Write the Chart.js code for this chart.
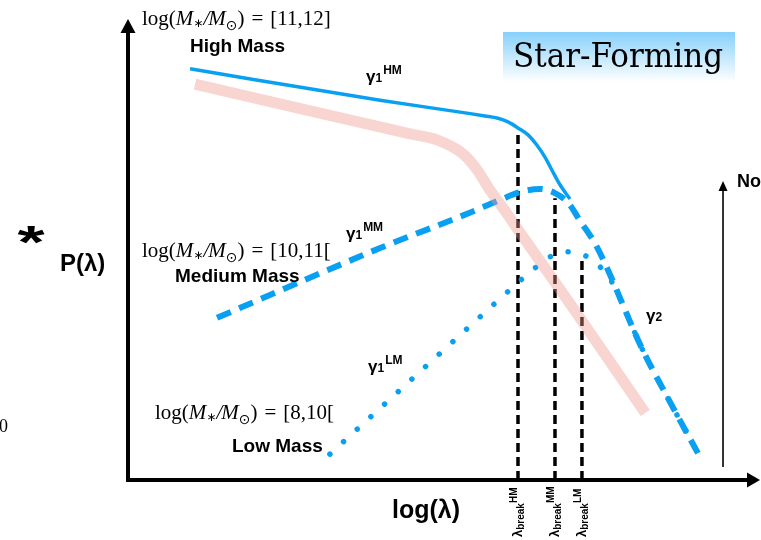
<!DOCTYPE html>
<html>
<head>
<meta charset="utf-8">
<script src="https://cdn.jsdelivr.net/npm/chart.js@4.4.1/dist/chart.umd.min.js"></script>
<style>
  html, body { margin: 0; padding: 0; background: #ffffff; }
  #wrap { width: 761px; height: 540px; position: relative; }
</style>
</head>
<body>
<div id="wrap"><canvas id="c" width="761" height="540"></canvas></div>
<script>
// Schematic broken power-law shapes of P(λ) in arbitrary log units (0..10 on both axes)

// High mass bin: shallow slope, break, then steep γ2 fall
const highMassLogL = [0.99, 4.02, 5.46, 5.69, 5.90, 6.06, 6.22, 6.38, 6.52, 6.65, 6.76, 6.89, 7.05];
const highMassLogP = [8.90, 8.22, 7.93, 7.88, 7.83, 7.75, 7.62, 7.47, 7.25, 6.99, 6.71, 6.39, 6.08];

// Medium mass bin: rising γ1, peak, then shared γ2 fall
const medMassLogL = [1.42, 4.02, 5.46, 5.93, 6.25, 6.57, 6.81, 7.02, 7.21, 7.48, 8.21, 8.60, 9.09];
const medMassLogP = [3.51, 5.02, 5.79, 6.06, 6.23, 6.30, 6.21, 6.00, 5.61, 5.04, 2.81, 1.80, 0.58];

// Low mass bin: steeper rise, later break, joins the γ2 fall
const lowMassLogL = [3.22, 5.93, 6.25, 6.51, 6.73, 6.99, 7.27, 7.50, 7.69, 8.21, 8.60, 9.09];
const lowMassLogP = [0.56, 3.92, 4.31, 4.61, 4.83, 4.94, 4.87, 4.65, 4.35, 2.81, 1.80, 0.58];

// Combined (all masses) band
const allMassLogL = [1.07, 3.06, 4.50, 4.93, 5.34, 5.57, 5.77, 5.98, 6.25, 7.13, 8.25];
const allMassLogP = [8.57, 7.94, 7.49, 7.36, 7.06, 6.71, 6.28, 5.89, 5.36, 3.66, 1.45];

// Break positions of each bin
const breakTags = ['HM', 'MM', 'LM'];
const breakLogL = [6.22, 6.81, 7.24];
const breakTopLogP = [7.47, 6.10, 4.83];

const BLUE = '#0aa0f2';

function pts(xs, ys) { return xs.map((x, i) => ({ x: x, y: ys[i] })); }

const datasets = [
  {
    label: 'All masses',
    data: pts(allMassLogL, allMassLogP),
    borderColor: 'rgba(240,150,140,0.4)',
    borderWidth: 11,
    borderCapStyle: 'butt',
    cubicInterpolationMode: 'monotone'
  },
  {
    label: 'High Mass',
    data: pts(highMassLogL, highMassLogP),
    borderColor: BLUE,
    borderWidth: 3.5,
    cubicInterpolationMode: 'monotone'
  },
  {
    label: 'Medium Mass',
    data: pts(medMassLogL, medMassLogP),
    borderColor: BLUE,
    borderWidth: 6,
    borderDash: [15, 9],
    borderCapStyle: 'butt',
    cubicInterpolationMode: 'monotone'
  },
  {
    label: 'Low Mass',
    data: pts(lowMassLogL, lowMassLogP),
    borderColor: BLUE,
    borderWidth: 5.5,
    borderDash: [0.01, 18.5],
    borderCapStyle: 'round',
    cubicInterpolationMode: 'monotone'
  }
];

breakTags.forEach((tag, i) => {
  datasets.push({
    label: 'break ' + tag,
    data: [{ x: breakLogL[i], y: 0 }, { x: breakLogL[i], y: breakTopLogP[i] }],
    borderColor: '#000000',
    borderWidth: 3.5,
    borderDash: [9, 5],
    borderCapStyle: 'butt'
  });
});

const SANS = "'Liberation Sans', Arial, Helvetica, sans-serif";
const SERIF = "'Liberation Serif', 'Times New Roman', serif";

function arrowHead(ctx, tipX, tipY, dir, len, half) {
  ctx.beginPath();
  if (dir === 'up') {
    ctx.moveTo(tipX, tipY); ctx.lineTo(tipX - half, tipY + len); ctx.lineTo(tipX + half, tipY + len);
  } else {
    ctx.moveTo(tipX, tipY); ctx.lineTo(tipX - len, tipY - half); ctx.lineTo(tipX - len, tipY + half);
  }
  ctx.closePath();
  ctx.fill();
}

function massRange(ctx, x, y, range) {
  const size = 21;
  const roman = size + 'px ' + SERIF;
  const ital = 'italic ' + size + 'px ' + SERIF;
  const star = "12px 'DejaVu Sans', " + SERIF;
  const odot = "14px 'DejaVu Sans', " + SERIF;
  const pieces = [
    ['log(', roman, 0, 0],
    ['M', ital, 0, 0],
    ['\u2217', star, 2, 0],
    ['/', ital, 0, 0],
    ['M', ital, 0, -1],
    ['\u2299', odot, 5, 0],
    [')', roman, 0, 0],
    ['=', roman, 0, 7],
    [range, roman, 0, 7]
  ];
  let cx = x;
  ctx.textBaseline = 'alphabetic';
  ctx.textAlign = 'left';
  for (const [t, f, dy, dx] of pieces) {
    ctx.font = f;
    ctx.fillText(t, cx + dx, y + dy);
    cx += ctx.measureText(t).width + dx;
  }
}

function gammaLabel(ctx, x, y, sub, sup) {
  ctx.textAlign = 'left';
  ctx.textBaseline = 'alphabetic';
  ctx.font = 'bold 17px ' + SANS;
  ctx.fillText('\u03b3', x, y);
  let cx = x + ctx.measureText('\u03b3').width;
  ctx.font = 'bold 12px ' + SANS;
  ctx.fillText(sub, cx, y);
  cx += ctx.measureText(sub).width + 1;
  if (sup) {
    ctx.font = 'bold 12px ' + SANS;
    ctx.fillText(sup, cx, y - 8);
  }
}

function breakLabel(ctx, x, yBottom, tag) {
  ctx.save();
  ctx.translate(x, yBottom);
  ctx.rotate(-Math.PI / 2);
  ctx.textAlign = 'left';
  ctx.textBaseline = 'alphabetic';
  ctx.font = 'bold 13px ' + SANS;
  ctx.fillText('\u03bb', 0, 4);
  let cx = ctx.measureText('\u03bb').width;
  ctx.font = 'bold 10px ' + SANS;
  ctx.fillText('break', cx, 6);
  cx += ctx.measureText('break').width;
  ctx.font = 'bold 10px ' + SANS;
  ctx.fillText(tag, cx, -1);
  ctx.restore();
}

const annotations = {
  id: 'annotations',
  beforeDatasetsDraw(chart) {
    const ctx = chart.ctx;
    const xs = chart.scales.x, ys = chart.scales.y;
    const x0 = xs.getPixelForValue(0), y0 = ys.getPixelForValue(0);
    ctx.save();
    ctx.fillStyle = '#000';
    ctx.strokeStyle = '#000';
    // main axes
    ctx.lineWidth = 4;
    ctx.beginPath();
    ctx.moveTo(x0, y0 + 2);
    ctx.lineTo(x0, ys.getPixelForValue(10) + 12);
    ctx.moveTo(x0 - 2, y0);
    ctx.lineTo(xs.getPixelForValue(10) - 4, y0);
    ctx.stroke();
    arrowHead(ctx, x0, ys.getPixelForValue(10) + 1, 'up', 14, 7.5);
    arrowHead(ctx, xs.getPixelForValue(10) + 5, y0, 'right', 13, 7.5);
    // normalisation arrow
    const nx = xs.getPixelForValue(9.49);
    ctx.lineWidth = 1.6;
    ctx.beginPath();
    ctx.moveTo(nx, ys.getPixelForValue(0.28));
    ctx.lineTo(nx, ys.getPixelForValue(6.3));
    ctx.stroke();
    arrowHead(ctx, nx, ys.getPixelForValue(6.47), 'up', 10, 4.5);
    ctx.restore();
  },
  afterDraw(chart) {
    const ctx = chart.ctx;
    ctx.save();
    ctx.fillStyle = '#000';

    // title box
    const g = ctx.createLinearGradient(0, 32, 0, 82);
    g.addColorStop(0, '#86d0fb');
    g.addColorStop(1, '#ffffff');
    ctx.fillStyle = g;
    ctx.fillRect(503, 32, 232, 50);
    ctx.fillStyle = '#000';
    ctx.font = "34px 'DejaVu Serif', serif";
    ctx.textBaseline = 'alphabetic';
    ctx.textAlign = 'left';
    const tw = ctx.measureText('Star-Forming').width;
    ctx.save();
    ctx.translate(513, 67);
    ctx.scale(210 / tw, 1);
    ctx.fillText('Star-Forming', 0, 0);
    ctx.restore();

    // mass ranges and names
    massRange(ctx, 142, 25, '[11,12]');
    massRange(ctx, 142, 257, '[10,11[');
    massRange(ctx, 155, 419, '[8,10[');
    ctx.font = 'bold 19px ' + SANS;
    ctx.textAlign = 'left';
    ctx.fillText('High Mass', 190, 52);
    ctx.fillText('Medium Mass', 175, 282);
    ctx.fillText('Low Mass', 232, 452);

    // slopes
    gammaLabel(ctx, 366, 82, '1', 'HM');
    gammaLabel(ctx, 346, 239, '1', 'MM');
    gammaLabel(ctx, 368, 372, '1', 'LM');
    gammaLabel(ctx, 646, 321, '2', null);

    // axis titles
    ctx.textAlign = 'center';
    ctx.font = 'bold 58px ' + SANS;
    ctx.save();
    ctx.translate(31, 258);
    ctx.scale(1.2, 0.8);
    ctx.fillText('*', 0, 0);
    ctx.restore();
    ctx.textAlign = 'left';
    ctx.font = 'bold 24px ' + SANS;
    ctx.fillText('P(\u03bb)', 60, 271);
    ctx.font = 'bold 25px ' + SANS;
    ctx.fillText('log(\u03bb)', 392, 518);
    ctx.font = 'bold 18px ' + SANS;
    ctx.fillText('No', 737, 187);
    ctx.font = '18px ' + SERIF;
    ctx.fillText('0', -1, 432);

    // break labels
    const xs = chart.scales.x;
    breakTags.forEach((tag, i) => {
      breakLabel(ctx, xs.getPixelForValue(breakLogL[i]), 537, tag);
    });
    ctx.restore();
  }
};

new Chart(document.getElementById('c'), {
  type: 'line',
  data: { datasets: datasets },
  options: {
    responsive: false,
    animation: false,
    devicePixelRatio: 1,
    layout: { padding: { left: 128, right: 6, top: 18, bottom: 60 } },
    elements: { point: { radius: 0, hoverRadius: 0 }, line: { fill: false } },
    scales: {
      x: { type: 'linear', min: 0, max: 10, display: false },
      y: { type: 'linear', min: 0, max: 10, display: false }
    },
    plugins: { legend: { display: false }, tooltip: { enabled: false } }
  },
  plugins: [annotations]
});
</script>
</body>
</html>
